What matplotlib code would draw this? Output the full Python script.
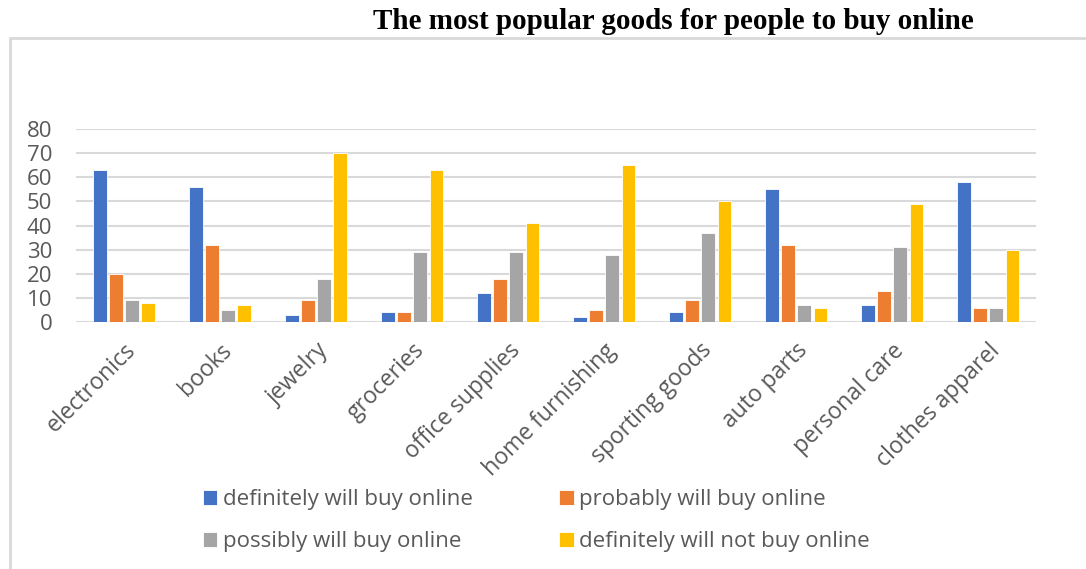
import numpy as np
import matplotlib.pyplot as plt
from matplotlib.patches import Rectangle

categorias = ['electronics', 'books', 'jewelry', 'groceries', 'office supplies',
              'home furnishing', 'sporting goods', 'auto parts', 'personal care',
              'clothes apparel']
definitely_buy = [63, 56, 3, 4, 12, 2, 4, 55, 7, 58]
probably_buy = [20, 32, 9, 4, 18, 5, 9, 32, 13, 6]
possibly_buy = [9, 5, 18, 29, 29, 28, 37, 7, 31, 6]
definitely_not = [8, 7, 70, 63, 41, 65, 50, 6, 49, 30]
series_labels = ['definitely will buy online', 'probably will buy online',
                 'possibly will buy online', 'definitely will not buy online']

colores = ['#4472C4', '#ED7D31', '#A5A5A5', '#FFC000']
gris_texto = '#595959'

plt.rcParams['font.family'] = ['Open Sans', 'DejaVu Sans']

fig = plt.figure(figsize=(10.86, 5.69), dpi=100)
# marco del area del grafico
fig.patches.append(Rectangle((10 / 1086, -0.1), 1.2, 1.1 - 38 / 569,
                             transform=fig.transFigure, fill=False,
                             edgecolor='#D9D9D9', linewidth=2))

ax = fig.add_axes([0.070, 0.434, 0.884, 0.339])

x = np.arange(len(categorias))
ancho = 0.14
paso = 0.168
series = [definitely_buy, probably_buy, possibly_buy, definitely_not]
barras = []
for i, (s, c, lab) in enumerate(zip(series, colores, series_labels)):
    b = ax.bar(x + (i - 1.5) * paso, s, width=ancho, color=c, label=lab,
               edgecolor='white', linewidth=0.6, zorder=3)
    barras.append(b)

ax.set_xlim(-0.5, len(categorias) - 0.5)
ax.set_ylim(0, 80)
ax.set_yticks(range(0, 81, 10))
ax.grid(axis='y', color='#D9D9D9', linewidth=1.5, zorder=0)
for sp in ax.spines.values():
    sp.set_visible(False)
ax.tick_params(axis='both', length=0, labelsize=16, colors=gris_texto)
ax.tick_params(axis='y', pad=17)
ax.set_xticks(x)
ax.set_xticklabels(categorias, rotation=45, ha='right', rotation_mode='anchor',
                   fontsize=16.5)
ax.tick_params(axis='x', pad=12)

fig.text(0.62, 0.963, 'The most popular goods for people to buy online',
         ha='center', va='center', fontsize=21, fontweight='bold',
         family='Liberation Serif')

# leyenda en dos filas: primero las dos de "buy", luego las otras dos
orden = [0, 2, 1, 3]
fig.legend([barras[i] for i in orden], [series_labels[i] for i in orden],
           loc='center', bbox_to_anchor=(0.494, 0.085), ncol=2, frameon=False,
           fontsize=16, labelcolor=gris_texto, handlelength=0.65,
           handleheight=0.65, handletextpad=0.25, columnspacing=3.9,
           labelspacing=0.95)

plt.savefig('out.png')
